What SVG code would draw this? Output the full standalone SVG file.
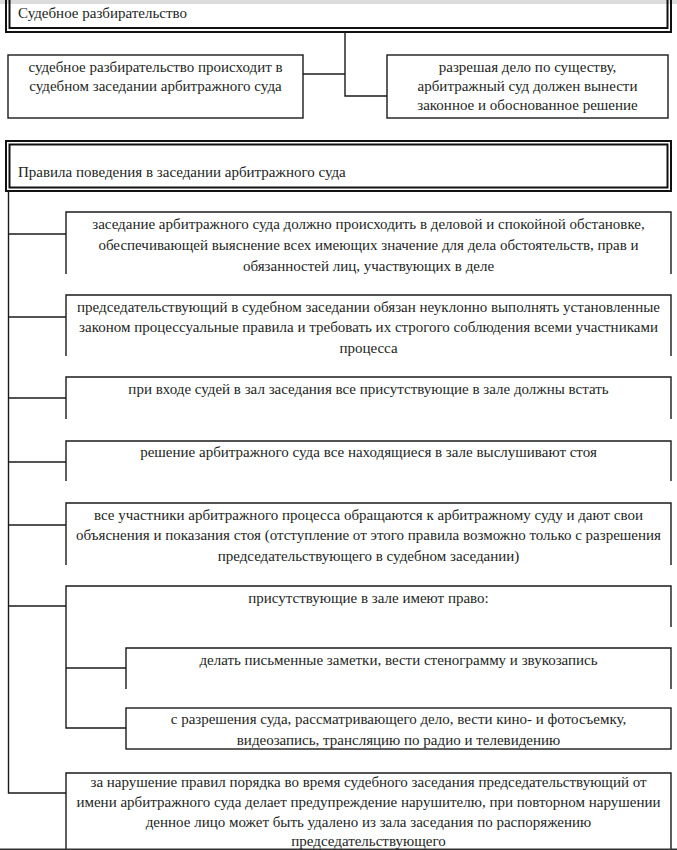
<svg xmlns="http://www.w3.org/2000/svg" width="677" height="850" viewBox="0 0 677 850">
<style>
.bg{fill:#ffffff}
text{font-family:'Liberation Serif','DejaVu Serif','Times New Roman',serif;font-size:15px;fill:#231f24}
.c{text-anchor:middle}
.b{fill:none;stroke:#1a1a1a;stroke-width:1.4}
.d{fill:none;stroke:#111;stroke-width:2}
.k{fill:none;stroke:#1a1a1a;stroke-width:1.4}
</style>
<rect class="bg" x="0" y="0" width="677" height="850"/>
<rect x="0" y="0" width="677" height="4" fill="#dcdcdc"/>
<g id="header1">
<rect class="d" x="6" y="-10" width="665" height="42"/>
<rect class="d" x="9.5" y="-10" width="658" height="38"/>
<text x="18" y="18">Судебное разбирательство</text>
</g>
<g id="box-left">
<rect class="b" x="8" y="55" width="295" height="63"/>
<text class="c" x="155.5" y="72">судебное разбирательство происходит в</text>
<text class="c" x="155.5" y="91">судебном заседании арбитражного суда</text>
</g>
<g id="box-right">
<rect class="b" x="387" y="55" width="281" height="63"/>
<text class="c" x="527.5" y="72">разрешая дело по существу,</text>
<text class="c" x="527.5" y="91">арбитражный суд должен вынести</text>
<text class="c" x="527.5" y="110">законное и обоснованное решение</text>
</g>
<g id="header2">
<rect class="d" x="6" y="141" width="665" height="50"/>
<rect class="d" x="9.5" y="144.5" width="658" height="43"/>
<text x="18" y="177">Правила поведения в заседании арбитражного суда</text>
</g>
<g id="rule1">
<path class="b" d="M66,274 V212 H671 V274"/>
<text class="c" x="368.5" y="229">заседание арбитражного суда должно происходить в деловой и спокойной обстановке,</text>
<text class="c" x="368.5" y="250">обеспечивающей выяснение всех имеющих значение для дела обстоятельств, прав и</text>
<text class="c" x="368.5" y="271">обязанностей лиц, участвующих в деле</text>
</g>
<g id="rule2">
<path class="b" d="M66,356 V295 H671 V356"/>
<text class="c" x="368.5" y="312">председательствующий в судебном заседании обязан неуклонно выполнять установленные</text>
<text class="c" x="368.5" y="332">законом процессуальные правила и требовать их строгого соблюдения всеми участниками</text>
<text class="c" x="368.5" y="353">процесса</text>
</g>
<g id="rule3">
<path class="b" d="M66,419 V377 H671 V419"/>
<text class="c" x="368.5" y="394">при входе судей в зал заседания все присутствующие в зале должны встать</text>
</g>
<g id="rule4">
<path class="b" d="M66,481 V441 H671 V481"/>
<text class="c" x="368.5" y="457">решение арбитражного суда все находящиеся в зале выслушивают стоя</text>
</g>
<g id="rule5">
<path class="b" d="M66,565 V503 H671 V565"/>
<text class="c" x="368.5" y="520">все участники арбитражного процесса обращаются к арбитражному суду и дают свои</text>
<text class="c" x="368.5" y="540">объяснения и показания стоя (отступление от этого правила возможно только с разрешения</text>
<text class="c" x="368.5" y="561">председательствующего в судебном заседании)</text>
</g>
<g id="rule6">
<path class="b" d="M66,627 V586 H671 V627"/>
<text class="c" x="368.5" y="603">присутствующие в зале имеют право:</text>
</g>
<g id="right-a">
<path class="b" d="M126,689 V648 H671 V689"/>
<text class="c" x="398.5" y="665">делать письменные заметки, вести стенограмму и звукозапись</text>
</g>
<g id="right-b">
<rect class="b" x="126" y="708" width="545" height="41"/>
<text class="c" x="398.5" y="724">с разрешения суда, рассматривающего дело, вести кино- и фотосъемку,</text>
<text class="c" x="398.5" y="745">видеозапись, трансляцию по радио и телевидению</text>
</g>
<g id="rule7">
<path class="b" d="M66,852 V773 H671 V852"/>
<text class="c" x="368.5" y="787">за нарушение правил порядка во время судебного заседания председательствующий от</text>
<text class="c" x="368.5" y="807">имени арбитражного суда делает предупреждение нарушителю, при повторном нарушении</text>
<text class="c" x="368.5" y="827">денное лицо может быть удалено из зала заседания по распоряжению</text>
<text class="c" x="368.5" y="846">председательствующего</text>
</g>
<g id="connectors">
<path class="k" d="M345,32 V96 H387"/>
<path class="k" d="M303,74 H345"/>
<path class="k" d="M8.5,191 V793 H66"/>
<path class="k" d="M8.5,234 H66"/>
<path class="k" d="M8.5,317 H66"/>
<path class="k" d="M8.5,398 H66"/>
<path class="k" d="M8.5,462 H66"/>
<path class="k" d="M8.5,525 H66"/>
<path class="k" d="M8.5,606 H66"/>
<path class="k" d="M66,627 V728 H126"/>
<path class="k" d="M66,668 H126"/>
</g>
<rect x="0" y="848.5" width="677" height="1.5" fill="#333"/>
</svg>
